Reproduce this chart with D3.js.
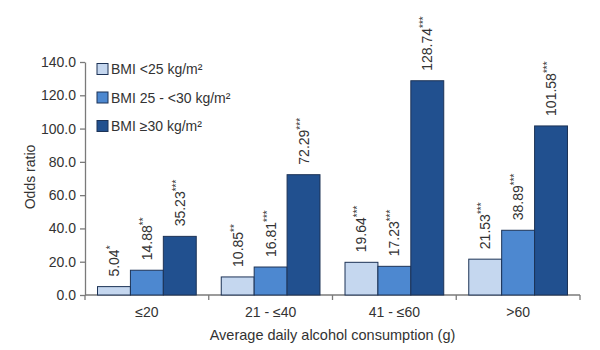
<!DOCTYPE html>
<html><head><meta charset="utf-8">
<script src="https://cdn.jsdelivr.net/npm/d3@7"></script>
<style>body{margin:0;background:#fff}svg{display:block}text{font-family:"Liberation Sans",Arial,sans-serif}</style>
</head><body><svg id="c" width="600" height="350"></svg>
<script>
const categories = ["≤20", "21 - ≤40", "41 - ≤60", ">60"];
const series = ["BMI <25 kg/m²", "BMI 25 - <30 kg/m²", "BMI ≥30 kg/m²"];
const bmiLow = [5.04, 10.85, 19.64, 21.53];
const bmiMid = [14.88, 16.81, 17.23, 38.89];
const bmiHigh = [35.23, 72.29, 128.74, 101.58];
const starsLow = ["*", "**", "***", "***"];
const starsMid = ["**", "***", "***", "***"];
const starsHigh = ["***", "***", "***", "***"];
const yTicks = [0, 20, 40, 60, 80, 100, 120, 140];
const colors = ["#c5d7ef", "#4d88d0", "#21508f"];

(function () {
const values = [bmiLow, bmiMid, bmiHigh];
const stars = [starsLow, starsMid, starsHigh];
const svg = d3.select("#c");
const mLeft = 85, mRight = 580, mTop = 62, mBottom = 295;
const y = d3.scaleLinear().domain([0, 140]).range([mBottom, mTop]);
const x0 = d3.scaleBand().domain(categories).range([mLeft, mRight]).padding(0);
const x1 = d3.scaleBand().domain(d3.range(3)).range([0, x0.bandwidth()]).paddingInner(0).paddingOuter(0.38);
const textCol = "#333";
const axisCol = "#7a7a7a";

const ya = svg.append("g").attr("transform", `translate(${mLeft},0)`)
  .call(d3.axisLeft(y).tickValues(yTicks).tickFormat(d3.format(".1f")).tickSize(5).tickSizeOuter(0));
ya.select(".domain").attr("stroke", axisCol).attr("stroke-width", 1.3);
ya.selectAll(".tick line").attr("stroke", axisCol).attr("stroke-width", 1.3);
ya.selectAll(".tick text").attr("fill", textCol).attr("font-size", 14).attr("x", -9);

const xa = svg.append("g").attr("transform", `translate(0,${mBottom})`);
xa.append("line").attr("x1", mLeft).attr("x2", mRight).attr("stroke", axisCol).attr("stroke-width", 1.3);
const bounds = categories.map(c => x0(c)).concat([mRight]);
xa.selectAll(".bt").data(bounds).join("line")
  .attr("x1", d => d).attr("x2", d => d).attr("y1", 0).attr("y2", 5)
  .attr("stroke", axisCol).attr("stroke-width", 1.3);
xa.selectAll(".cl").data(categories).join("text")
  .attr("x", d => x0(d) + x0.bandwidth() / 2).attr("y", 22)
  .attr("text-anchor", "middle").attr("font-size", 14).attr("fill", textCol).text(d => d);

const g = svg.append("g");
categories.forEach((c, i) => {
  values.forEach((vals, s) => {
    const bx = x0(c) + x1(s), bw = x1.bandwidth(), v = vals[i];
    g.append("rect").attr("x", bx).attr("y", y(v)).attr("width", bw).attr("height", y(0) - y(v))
      .attr("fill", colors[s]).attr("stroke", "#1d3356").attr("stroke-width", 1);
    const t = g.append("text")
      .attr("transform", `translate(${bx + bw / 2 + 5},${y(v) - 10}) rotate(-90)`)
      .attr("font-size", 14).attr("fill", textCol);
    t.append("tspan").text(v.toFixed(2));
    t.append("tspan").attr("font-size", 10).attr("dy", -5).text(stars[s][i]);
  });
});

svg.append("text").attr("transform", `translate(35,177) rotate(-90)`)
  .attr("text-anchor", "middle").attr("font-size", 14).attr("fill", textCol).text("Odds ratio");
svg.append("text").attr("x", (mLeft + mRight) / 2).attr("y", 340)
  .attr("text-anchor", "middle").attr("font-size", 14.5).attr("fill", textCol).text("Average daily alcohol consumption (g)");

const lg = svg.append("g");
series.forEach((s, i) => {
  const yy = 69 + i * 28.5;
  lg.append("rect").attr("x", 97).attr("y", yy - 5.5).attr("width", 11).attr("height", 11)
    .attr("fill", colors[i]).attr("stroke", "#1d3356").attr("stroke-width", 1);
  lg.append("text").attr("x", 111).attr("y", yy + 5).attr("font-size", 14).attr("fill", textCol).text(s);
});
})();
</script></body></html>
